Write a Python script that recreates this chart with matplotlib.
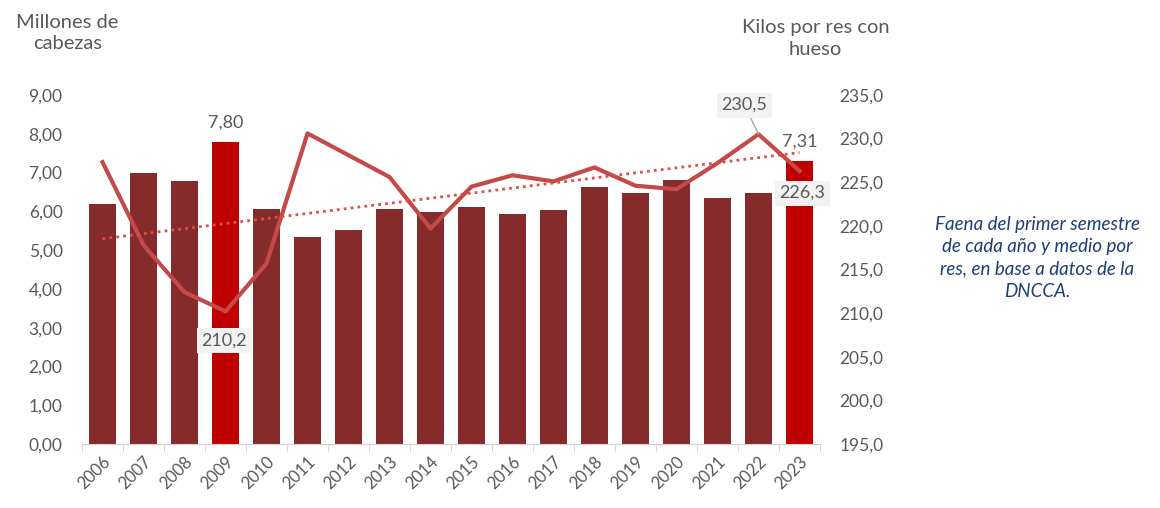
import numpy as np
import matplotlib.pyplot as plt

plt.rcParams['font.family'] = ['Lato', 'DejaVu Sans']

# Datos
anios = [str(a) for a in range(2006, 2024)]
faena = [6.18, 7.00, 6.79, 7.80, 6.06, 5.34, 5.52, 6.07, 5.98, 6.10,
         5.93, 6.04, 6.62, 6.47, 6.82, 6.34, 6.48, 7.31]
kilos = [227.3, 217.8, 212.4, 210.2, 215.7, 230.6, 228.1, 225.6, 219.7, 224.5,
         225.8, 225.1, 226.7, 224.6, 224.2, 227.2, 230.5, 226.3]
destacados = ['2009', '2023']

gris = '#595959'
rojo_osc = '#852B2B'
rojo = '#C00000'
rojo_linea = '#C44A48'

x = np.arange(len(anios))

fig = plt.figure(figsize=(11.6, 5.08), dpi=100)
ax = fig.add_axes([0.0707, 0.126, 0.6362, 0.687])
ax2 = ax.twinx()

# Barras
colores = [rojo if a in destacados else rojo_osc for a in anios]
ax.bar(x, faena, width=0.68, color=colores, zorder=2)

ax.set_xlim(-0.5, len(anios) - 0.5)
ax.set_ylim(0, 9)
ax.set_yticks(np.arange(0, 9.5, 1))
ax.set_yticklabels([f'{v:.2f}'.replace('.', ',') for v in np.arange(0, 9.5, 1)])
ax.set_xticks(x)
ax.set_xticklabels(anios, rotation=45, ha='right', rotation_mode='anchor')
ax.set_xticks(np.arange(-0.5, len(anios), 1), minor=True)
ax.tick_params(axis='x', which='major', length=0, labelsize=12, colors=gris, pad=7)
ax.tick_params(axis='x', which='minor', length=5, color='#D0D0D0')
ax.tick_params(axis='y', length=0, labelsize=12.5, colors=gris, pad=14)

for s in ['top', 'left', 'right']:
    ax.spines[s].set_visible(False)
    ax2.spines[s].set_visible(False)
ax.spines['bottom'].set_color('#D0D0D0')
ax2.spines['bottom'].set_visible(False)

# Linea kilos por res
ax2.plot(x, kilos, color=rojo_linea, linewidth=3, zorder=3)
# Tendencia lineal
coef = np.polyfit(x, kilos, 1)
ax2.plot(x, np.polyval(coef, x), color='#D9504C', linewidth=2,
         linestyle=(0, (1, 1.5)), zorder=3)

ax2.set_ylim(195, 235)
ax2.set_yticks(np.arange(195, 236, 5))
ax2.set_yticklabels([f'{v:.1f}'.replace('.', ',') for v in np.arange(195, 236, 5)])
ax2.tick_params(axis='y', length=0, labelsize=12.5, colors=gris, pad=14)

# Etiquetas de barras
for a in destacados:
    i = anios.index(a)
    ax.annotate(f'{faena[i]:.2f}'.replace('.', ','), (i, faena[i]),
                xytext=(0, 8), textcoords='offset points',
                ha='center', va='bottom', fontsize=13, color=gris)

# Etiquetas de linea
caja = dict(boxstyle='square,pad=0.25', fc='#F2F2F2', ec='none')
for a, off in [('2009', (-1, -21)), ('2023', (2, -16))]:
    i = anios.index(a)
    ax2.annotate(f'{kilos[i]:.1f}'.replace('.', ','), (i, kilos[i]),
                 xytext=off, textcoords='offset points',
                 ha='center', va='center', fontsize=13, color=gris, bbox=caja,
                 zorder=5)
i = anios.index('2022')
ax2.annotate(f'{kilos[i]:.1f}'.replace('.', ','), (i, kilos[i]),
             xytext=(-10, 21), textcoords='offset points',
             ha='center', va='center', fontsize=13, color=gris, bbox=caja,
             arrowprops=dict(arrowstyle='-', color='#A6A6A6', lw=1,
                             shrinkA=0, shrinkB=0),
             zorder=5)

# Titulos de ejes
fig.text(0.058, 0.935, 'Millones de\ncabezas', ha='center', va='center',
         fontsize=14.5, color=gris, linespacing=1.35)
fig.text(0.703, 0.924, 'Kilos por res con\nhueso', ha='center', va='center',
         fontsize=14.5, color=gris, linespacing=1.35)

# Nota
fig.text(0.894, 0.492,
         'Faena del primer semestre\nde cada año y medio por\nres, en base a datos de la\nDNCCA.',
         ha='center', va='center', fontsize=13.5, style='italic',
         color='#1F3E78', linespacing=1.38)

fig.savefig('out.png', dpi=100)
